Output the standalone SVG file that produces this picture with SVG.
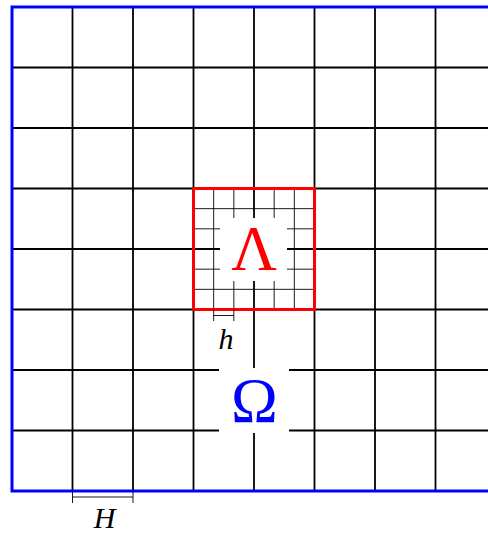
<svg xmlns="http://www.w3.org/2000/svg" width="488" height="534" viewBox="0 0 488 534">
<style>
.coarse{stroke:#000;stroke-width:1.8;fill:none}
.fine{stroke:#000;stroke-width:0.9;fill:none}
.dim{stroke:#000;stroke-width:0.9;fill:none}
.lbl{font-family:"Liberation Serif","DejaVu Serif",serif;font-style:italic;font-size:30px;fill:#000;text-anchor:middle}
.big{font-family:"Liberation Serif","DejaVu Serif",serif;font-size:63px;text-anchor:middle}
</style>
<rect width="488" height="534" fill="#fff"/>
<g id="connectors">
<g id="coarse-grid" class="coarse">
<path d="M72.5 7V491M133 7V491M193.5 7V491M254 7V491M314.5 7V491M375 7V491M435.5 7V491"/>
<path d="M12 67.5H500M12 128H500M12 188.5H500M12 249H500M12 309.5H500M12 370H500M12 430.5H500"/>
</g>
<g id="fine-grid" class="fine">
<path d="M213.67 188.5V309.5M233.83 188.5V309.5M274.17 188.5V309.5M294.33 188.5V309.5"/>
<path d="M193.5 208.67H314.5M193.5 228.83H314.5M193.5 269.17H314.5M193.5 289.33H314.5"/>
</g>
</g>
<g id="node-lambda">
<rect x="220" y="218" width="67" height="63" fill="#fff"/>
<rect x="193.5" y="188.5" width="121" height="121" fill="none" stroke="#f00" stroke-width="3"/>
<text class="big" x="254" y="270" fill="#f00">Λ</text>
</g>
<g id="node-omega">
<rect x="219" y="368" width="70" height="65" fill="#fff"/>
<text class="big" x="254.5" y="422" fill="#00f">Ω</text>
</g>
<g id="domain-border">
<path d="M502 7H12V491H502" fill="none" stroke="#00f" stroke-width="3"/>
</g>
<g id="dim-h">
<path class="dim" d="M213.67 315.5H233.83M213.67 309.5V321M233.83 309.5V321"/>
<text class="lbl" x="226" y="349">h</text>
</g>
<g id="dim-H">
<path class="dim" d="M72.5 497H133M72.5 491V503M133 491V503"/>
<text class="lbl" x="104.5" y="528">H</text>
</g>
</svg>
